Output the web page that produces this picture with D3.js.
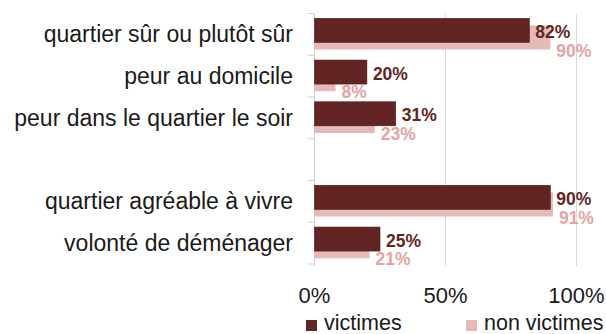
<!DOCTYPE html>
<html>
<head>
<meta charset="utf-8">
<script src="https://cdn.jsdelivr.net/npm/d3@7"></script>
<style>
  html, body { margin: 0; padding: 0; background: #fff; }
  svg { display: block; font-family: "Liberation Sans", Arial, sans-serif; }
</style>
</head>
<body>
<svg id="chart" width="606" height="334"></svg>
<script>
// Indicators (an empty slot separates the two groups)
const categories = [
  "quartier sûr ou plutôt sûr",
  "peur au domicile",
  "peur dans le quartier le soir",
  "",
  "quartier agréable à vivre",
  "volonté de déménager"
];
const victimes =    [82, 20, 31, null, 90, 25];
const nonVictimes = [90,  8, 23, null, 91, 21];
const xTicks = [0, 50, 100];
const seriesNames = ["victimes", "non victimes"];

const colDark = "#632523";
const colLight = "#e6b9b8";
const colLightText = "#e3a3a3";

const svg = d3.select("#chart");
const plotLeft = 314.5, plotRight = 576.5, plotTop = 13.5, plotBottom = 264;

const x = d3.scaleLinear().domain([0, 100]).range([plotLeft, plotRight]);
const keys = categories.map((c, i) => i);
const y = d3.scaleBand().domain(keys).range([plotTop, plotBottom]).padding(0);
const bw = y.bandwidth();

// vertical gridlines
svg.append("g").selectAll("line")
  .data(xTicks.filter(t => t > 0))
  .join("line")
  .attr("x1", d => x(d)).attr("x2", d => x(d))
  .attr("y1", plotTop).attr("y2", plotBottom + 2)
  .attr("stroke", "#d9d9d9").attr("stroke-width", 1);

// category axis with ticks at band boundaries
const axisG = svg.append("g");
axisG.append("line")
  .attr("x1", plotLeft).attr("x2", plotLeft)
  .attr("y1", plotTop).attr("y2", plotBottom + 2)
  .attr("stroke", "#d0d0d0");
const bounds = keys.map(k => y(k)).concat([plotBottom]);
axisG.selectAll("line.tick").data(bounds).join("line")
  .attr("class", "tick")
  .attr("x1", plotLeft - 7).attr("x2", plotLeft)
  .attr("y1", d => d).attr("y2", d => d)
  .attr("stroke", "#d0d0d0");

// category labels
svg.append("g").selectAll("text")
  .data(categories)
  .join("text")
  .attr("x", 293)
  .attr("y", (d, i) => y(i) + bw / 2)
  .attr("dy", "0.35em")
  .attr("text-anchor", "end")
  .attr("font-size", 23)
  .attr("fill", "#1a1a1a")
  .text(d => d);

const rows = keys.filter(i => victimes[i] != null);
const lightOff = 0.287 * bw, darkOff = 0.115 * bw, barH = 0.575 * bw;

// non-victimes bars (behind)
svg.append("g").selectAll("rect")
  .data(rows).join("rect")
  .attr("x", x(0))
  .attr("y", i => y(i) + lightOff)
  .attr("width", i => x(nonVictimes[i]) - x(0))
  .attr("height", barH)
  .attr("fill", colLight);

// victimes bars (front)
svg.append("g").selectAll("rect")
  .data(rows).join("rect")
  .attr("x", x(0))
  .attr("y", i => y(i) + darkOff)
  .attr("width", i => x(victimes[i]) - x(0))
  .attr("height", barH)
  .attr("fill", colDark)
  .attr("stroke", "#4a1a19").attr("stroke-width", 0.6);

// value labels
svg.append("g").selectAll("text")
  .data(rows).join("text")
  .attr("x", i => x(victimes[i]) + 6)
  .attr("y", i => y(i) + darkOff + barH / 2 + 1.5)
  .attr("dy", "0.35em")
  .attr("font-size", 17.5).attr("font-weight", "bold")
  .attr("fill", colDark)
  .text(i => victimes[i] + "%");

svg.append("g").selectAll("text")
  .data(rows).join("text")
  .attr("x", i => x(nonVictimes[i]) + 6)
  .attr("y", i => y(i) + lightOff + barH + 1)
  .attr("dy", "0.35em")
  .attr("font-size", 17.5).attr("font-weight", "bold")
  .attr("fill", colLightText)
  .text(i => nonVictimes[i] + "%");

// x tick labels
svg.append("g").selectAll("text")
  .data(xTicks).join("text")
  .attr("x", d => x(d))
  .attr("y", 303)
  .attr("text-anchor", "middle")
  .attr("font-size", 22)
  .attr("fill", "#1a1a1a")
  .text(d => d + "%");

// legend
const legend = svg.append("g");
const legendX = [306, 466];
const legendCol = [colDark, colLight];
seriesNames.forEach((name, i) => {
  legend.append("rect")
    .attr("x", legendX[i]).attr("y", 320)
    .attr("width", 11).attr("height", 11)
    .attr("fill", legendCol[i]);
  legend.append("text")
    .attr("x", legendX[i] + 18).attr("y", 330)
    .attr("font-size", 21.5)
    .attr("fill", "#1a1a1a")
    .text(name);
});
</script>
</body>
</html>
